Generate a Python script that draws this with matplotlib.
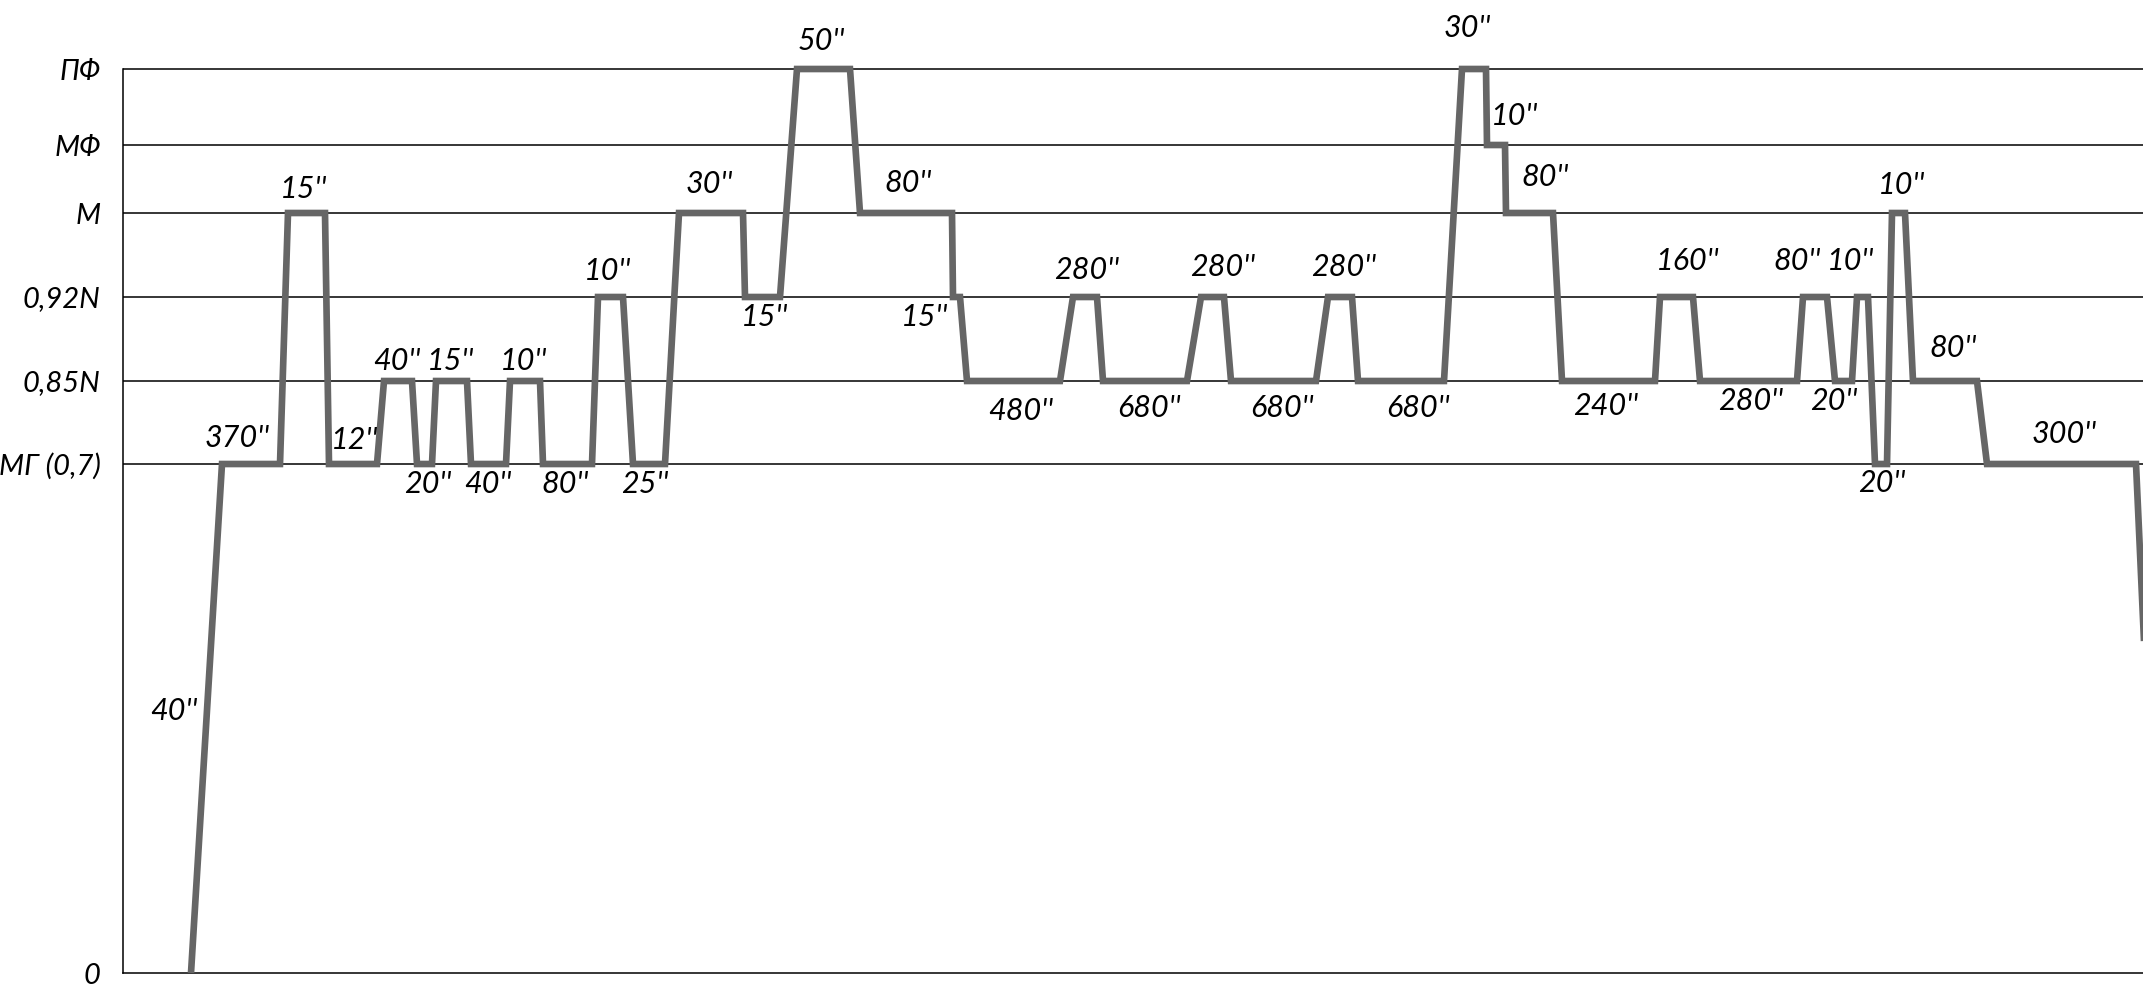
import matplotlib
matplotlib.use('Agg')
import matplotlib.pyplot as plt

# engine test cycle: regime levels (schematic heights, not to scale)
levels = ['0', 'МГ (0,7)', '0,85N', '0,92N', 'М', 'МФ', 'ПФ']
level_height = [0, 509, 592, 676, 760, 828, 904]

# profile vertices: position along the cycle and regime level index
profile_x = [191, 222, 280, 288, 325, 329, 377, 384, 412, 417,
             432, 436, 467, 471, 506, 510, 540, 543, 592, 598,
             623, 633, 665, 679, 743, 745, 780, 797, 850, 860,
             952, 953, 960, 967, 1060, 1073, 1097, 1103, 1187, 1201,
             1224, 1231, 1316, 1328, 1352, 1358, 1444, 1462, 1486, 1487,
             1505, 1506, 1553, 1562, 1655, 1660, 1693, 1700, 1797, 1803,
             1827, 1835, 1852, 1857, 1868, 1875, 1887, 1892, 1905, 1913,
             1977, 1987, 2136, 2159]
profile_level = [0, 1, 1, 4, 4, 1, 1, 2, 2, 1,
                 1, 2, 2, 1, 1, 2, 2, 1, 1, 3,
                 3, 1, 1, 4, 4, 3, 3, 6, 6, 4,
                 4, 3, 3, 2, 2, 3, 3, 2, 2, 3,
                 3, 2, 2, 3, 3, 2, 2, 6, 6, 5,
                 5, 4, 4, 2, 2, 3, 3, 2, 2, 3,
                 3, 2, 2, 3, 3, 1, 1, 4, 4, 2,
                 2, 1, 1, 0]

# duration labels (seconds) and where they sit on the diagram
dur_text = ["40''", "370''", "15''", "12''", "40''", "15''", "10''",
            "20''", "40''", "80''", "10''", "25''", "30''", "15''",
            "50''", "80''", "15''", "480''", "280''", "680''", "280''",
            "680''", "280''", "680''", "30''", "10''", "80''", "240''",
            "160''", "280''", "80''", "10''", "20''", "10''", "20''",
            "80''", "300''"]
dur_x = [174, 237, 304, 355, 397, 451, 524,
         428, 488, 565, 608, 645, 709, 765,
         821, 908, 925, 1021, 1087, 1149, 1223,
         1282, 1344, 1418, 1467, 1515, 1545, 1606,
         1688, 1751, 1797, 1851, 1834, 1902, 1882,
         1953, 2064]
dur_y = [262, 535, 784, 533, 612, 612, 612,
         489, 489, 489, 702, 489, 789, 656,
         932, 790, 656, 562, 703, 565, 706,
         565, 706, 565, 945, 857, 796, 567,
         712, 572, 712, 712, 572, 788, 490,
         625, 539]

font = ['Liberation Sans Narrow', 'Lato', 'DejaVu Sans']

fig = plt.figure(figsize=(21.43, 9.92), dpi=100)
ax = fig.add_axes([123 / 2143, 19 / 992, 2020 / 2143, 973 / 992])
ax.set_xlim(123, 2143)
ax.set_ylim(0, 973)

for h in level_height[1:]:
    ax.axhline(h, color='black', lw=1.1, zorder=1)

ys = [level_height[i] for i in profile_level]
ax.plot(profile_x, ys, color='#666666', lw=4.8, solid_joinstyle='miter',
        solid_capstyle='butt', zorder=3)

for s, x, y in zip(dur_text, dur_x, dur_y):
    ax.text(x, y, s, ha='center', va='center', fontsize=22,
            style='italic', family=font, color='black')

ax.set_xticks([])
ax.set_yticks(level_height)
ax.set_yticklabels(levels, fontsize=21, style='italic', family=font)
ax.tick_params(axis='y', length=0, pad=16)

ax.spines['top'].set_visible(False)
ax.spines['right'].set_visible(False)
ax.spines['left'].set_bounds(0, level_height[-1])
ax.spines['left'].set_linewidth(1.1)
ax.spines['bottom'].set_linewidth(1.1)

fig.savefig('out.png', dpi=100)
